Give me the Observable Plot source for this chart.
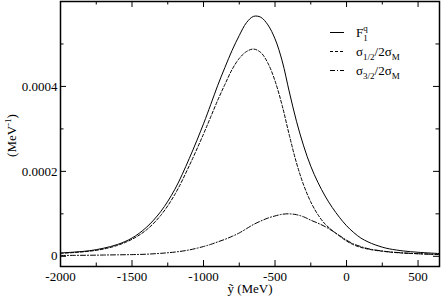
<!DOCTYPE html>
<html><head><meta charset="utf-8">
<script src="https://cdn.jsdelivr.net/npm/d3@7"></script>
<script src="https://cdn.jsdelivr.net/npm/@observablehq/plot@0.6"></script>
<style>
body{margin:0;background:#fff}
#chart svg text, #chart svg tspan{font-family:"Liberation Serif","Times New Roman",serif !important;}
</style>
</head><body><div id="chart"></div>
<script>
// ---- data ----
const yTilde = [-2000,-1900,-1800,-1700,-1600,-1500,-1400,-1300,-1200,-1100,-1000,-950,-900,-850,-800,-750,-700,-650,-600,-550,-500,-450,-400,-350,-300,-250,-200,-150,-100,-50,0,50,100,150,200,250,300,400,500,650];
const F1q = [8e-6,1.0e-5,1.3e-5,1.9e-5,2.8e-5,4.3e-5,6.8e-5,1.05e-4,1.58e-4,2.3e-4,3.12e-4,3.57e-4,4.03e-4,4.45e-4,4.85e-4,5.2e-4,5.5e-4,5.65e-4,5.63e-4,5.45e-4,5.12e-4,4.6e-4,3.87e-4,3.18e-4,2.6e-4,2.12e-4,1.74e-4,1.42e-4,1.15e-4,9.2e-5,7.2e-5,5.6e-5,4.3e-5,3.4e-5,2.7e-5,2.15e-5,1.75e-5,1.25e-5,9.5e-6,6.5e-6];
const sigma12 = [7e-6,9e-6,1.2e-5,1.7e-5,2.6e-5,4.0e-5,6.2e-5,9.6e-5,1.46e-4,2.13e-4,2.88e-4,3.28e-4,3.68e-4,4.05e-4,4.4e-4,4.66e-4,4.82e-4,4.88e-4,4.8e-4,4.55e-4,4.13e-4,3.55e-4,2.85e-4,2.2e-4,1.68e-4,1.28e-4,9.8e-5,7.6e-5,6.1e-5,4.8e-5,3.6e-5,2.7e-5,2.1e-5,1.7e-5,1.4e-5,1.2e-5,1.0e-5,7.5e-6,6e-6,4e-6];
const sigma32 = [2e-6,2.2e-6,2.5e-6,3e-6,3.5e-6,4e-6,5e-6,7e-6,1.0e-5,1.5e-5,2.3e-5,2.8e-5,3.4e-5,4.0e-5,4.7e-5,5.5e-5,6.5e-5,7.5e-5,8.3e-5,9.0e-5,9.5e-5,9.9e-5,1.0e-4,9.8e-5,9.3e-5,8.5e-5,7.8e-5,7.0e-5,6.0e-5,4.9e-5,3.8e-5,2.9e-5,2.3e-5,1.8e-5,1.5e-5,1.25e-5,1.05e-5,8e-6,6.2e-6,4.3e-6];
const xMajor = [-2000,-1500,-1000,-500,0,500];
const xMinor = [-1750,-1250,-750,-250,250];
const xTickLabels = ["-2000","-1500","-1000","-500","0","500"];
const yMajor = [0,0.0002,0.0004];
const yMinor = [0.0001,0.0003,0.0005];
const yTickLabels = ["0","0.0002","0.0004"];
const xLabel = "ỹ (MeV)";

// ---- layout ----
const W = 441, H = 298, mL = 60, mR = 2, mT = 1, mB = 32;
const innerW = W - mL - mR, innerH = H - mT - mB;
const font = '"Liberation Serif","Times New Roman",serif';
const data = yTilde.map((x, i) => ({x, f1: F1q[i], s12: sigma12[i], s32: sigma32[i]}));

const chart = Plot.plot({
  width: W, height: H, marginLeft: mL, marginRight: mR, marginTop: mT, marginBottom: mB,
  style: {fontFamily: font, fontSize: "13px", color: "#000", background: "#fff", overflow: "visible"},
  x: {domain: [-2000, 650]},
  y: {domain: [-0.000024, 0.0006]},
  marks: [
    Plot.axisX(xMajor, {tickSize: 0, tickPadding: 5, fontSize: 13, fontFamily: font, label: null, fill: "#000",
      tickFormat: (d) => xTickLabels[xMajor.indexOf(d)]}),
    Plot.axisY(yMajor, {tickSize: 0, tickPadding: 3, fontSize: 13, fontFamily: font, label: null, fill: "#000",
      tickFormat: (d) => yTickLabels[yMajor.indexOf(d)]}),
    Plot.tickX(xMajor, {x: d => d, insetTop: innerH - 6, stroke: "#000"}),
    Plot.tickX(xMajor, {x: d => d, insetBottom: innerH - 6, stroke: "#000"}),
    Plot.tickX(xMinor, {x: d => d, insetTop: innerH - 3.5, stroke: "#000"}),
    Plot.tickX(xMinor, {x: d => d, insetBottom: innerH - 3.5, stroke: "#000"}),
    Plot.tickY(yMajor, {y: d => d, insetRight: innerW - 6, stroke: "#000"}),
    Plot.tickY(yMajor, {y: d => d, insetLeft: innerW - 6, stroke: "#000"}),
    Plot.tickY(yMinor, {y: d => d, insetRight: innerW - 3.5, stroke: "#000"}),
    Plot.tickY(yMinor, {y: d => d, insetLeft: innerW - 3.5, stroke: "#000"}),
    Plot.line(data, {x: "x", y: "f1", stroke: "#000", strokeWidth: 1, curve: "catmull-rom"}),
    Plot.line(data, {x: "x", y: "s12", stroke: "#000", strokeWidth: 1, strokeDasharray: "3,2", curve: "catmull-rom"}),
    Plot.line(data, {x: "x", y: "s32", stroke: "#000", strokeWidth: 1, strokeDasharray: "5,2,1,2", curve: "catmull-rom"}),
    Plot.text([xLabel], {frameAnchor: "bottom", dy: 22.5, text: d => d, fontSize: 13, fontFamily: font, fill: "#000", lineAnchor: "middle"}),
    Plot.frame({stroke: "#000", strokeWidth: 1.5})
  ]
});
document.getElementById("chart").appendChild(chart);

const svg = d3.select(chart);
svg.attr("font-family", font);
svg.selectAll("text").attr("font-family", font).style("font-family", font);

// ---- y label and legend (rich text with sub/superscripts) ----
const yl = svg.append("text")
  .attr("transform", `translate(16,${mT + innerH / 2 + 2}) rotate(-90)`)
  .attr("text-anchor", "middle").attr("font-family", font).attr("font-size", 13).attr("fill", "#000");
yl.append("tspan").text("(MeV");
yl.append("tspan").attr("font-size", 9).attr("dy", -5).text("-1");
yl.append("tspan").attr("dy", 5).text(")");

const legendItems = [
  {dash: null, parts: [["F", 0, 13], ["1", 4, 9], ["q", -10, 9, -4.5]]},
  {dash: "3,2", parts: [["σ", 0, 13], ["1/2", 4, 9], ["/2σ", -4, 13], ["M", 4, 9]]},
  {dash: "5,2,1,2", parts: [["σ", 0, 13], ["3/2", 4, 9], ["/2σ", -4, 13], ["M", 4, 9]]}
];
const lg = svg.append("g").attr("text-anchor", "start");
legendItems.forEach((it, i) => {
  const yy = 32.5 + i * 19;
  const ln = lg.append("path").attr("d", `M330,${yy}H344`)
    .attr("stroke", "#000").attr("stroke-width", 1).attr("fill", "none");
  if (it.dash) ln.attr("stroke-dasharray", it.dash);
  const t = lg.append("text").attr("x", 356).attr("y", yy + 4.5).attr("text-anchor", "start")
    .attr("font-family", font).attr("font-size", 13).attr("fill", "#000");
  it.parts.forEach(([s, dy, fs, dx]) => {
    const sp = t.append("tspan").attr("dy", dy).attr("font-size", fs).text(s);
    if (dx) sp.attr("dx", dx);
  });
});
</script>
</body></html>
